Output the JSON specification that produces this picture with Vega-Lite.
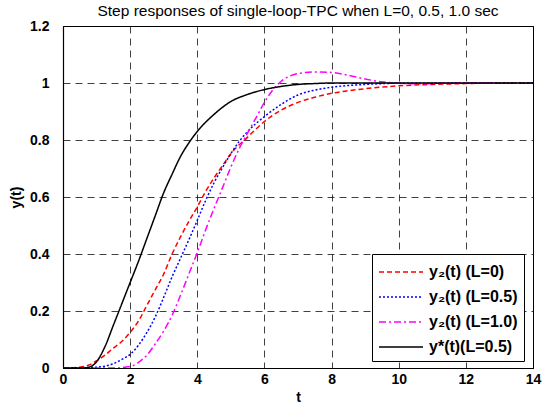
{
  "$schema": "https://vega.github.io/schema/vega-lite/v6.json",
  "width": 470,
  "height": 342,
  "autosize": {"type": "none"},
  "padding": {"left": 63, "top": 26, "right": 14, "bottom": 39},
  "background": "white",
  "title": {"text": "Step responses of single-loop-TPC when L=0, 0.5, 1.0 sec", "font": "Liberation Sans", "fontSize": 15.5, "fontWeight": "normal", "color": "black", "offset": 0},
  "config": {
    "view": {"stroke": "black", "strokeWidth": 1},
    "axis": {"labelFont": "Liberation Sans", "labelFontWeight": "bold", "labelFontSize": 14, "labelColor": "black", "titleFont": "Liberation Sans", "titleFontWeight": "bold", "titleFontSize": 14, "titleColor": "black", "domainColor": "black", "domainWidth": 1.2, "ticks": false, "tickSize": 0, "gridColor": "black", "gridOpacity": 0.75, "gridDash": [7, 5], "gridWidth": 1}
  },
  "data": {"values": [
    {"s":"y₂(t) (L=0)","t":0,"y":0},{"s":"y₂(t) (L=0)","t":0.5,"y":0.003},{"s":"y₂(t) (L=0)","t":0.8,"y":0.012},{"s":"y₂(t) (L=0)","t":1.0,"y":0.025},{"s":"y₂(t) (L=0)","t":1.25,"y":0.045},{"s":"y₂(t) (L=0)","t":1.5,"y":0.07},{"s":"y₂(t) (L=0)","t":1.75,"y":0.093},{"s":"y₂(t) (L=0)","t":2.0,"y":0.125},{"s":"y₂(t) (L=0)","t":2.25,"y":0.165},{"s":"y₂(t) (L=0)","t":2.5,"y":0.22},{"s":"y₂(t) (L=0)","t":2.75,"y":0.275},{"s":"y₂(t) (L=0)","t":3.0,"y":0.33},{"s":"y₂(t) (L=0)","t":3.25,"y":0.4},{"s":"y₂(t) (L=0)","t":3.5,"y":0.46},{"s":"y₂(t) (L=0)","t":3.75,"y":0.515},{"s":"y₂(t) (L=0)","t":4.0,"y":0.565},{"s":"y₂(t) (L=0)","t":4.25,"y":0.62},{"s":"y₂(t) (L=0)","t":4.5,"y":0.667},{"s":"y₂(t) (L=0)","t":4.75,"y":0.71},{"s":"y₂(t) (L=0)","t":5.0,"y":0.752},{"s":"y₂(t) (L=0)","t":5.5,"y":0.81},{"s":"y₂(t) (L=0)","t":6.0,"y":0.865},{"s":"y₂(t) (L=0)","t":6.5,"y":0.905},{"s":"y₂(t) (L=0)","t":7.0,"y":0.932},{"s":"y₂(t) (L=0)","t":7.5,"y":0.95},{"s":"y₂(t) (L=0)","t":8.0,"y":0.964},{"s":"y₂(t) (L=0)","t":8.5,"y":0.973},{"s":"y₂(t) (L=0)","t":9.0,"y":0.98},{"s":"y₂(t) (L=0)","t":10,"y":0.99},{"s":"y₂(t) (L=0)","t":11,"y":0.995},{"s":"y₂(t) (L=0)","t":12,"y":0.998},{"s":"y₂(t) (L=0)","t":13,"y":1.0},{"s":"y₂(t) (L=0)","t":14,"y":1.0},
    {"s":"y₂(t) (L=0.5)","t":0,"y":0},{"s":"y₂(t) (L=0.5)","t":1.0,"y":0.003},{"s":"y₂(t) (L=0.5)","t":1.5,"y":0.015},{"s":"y₂(t) (L=0.5)","t":1.75,"y":0.03},{"s":"y₂(t) (L=0.5)","t":2.0,"y":0.048},{"s":"y₂(t) (L=0.5)","t":2.25,"y":0.08},{"s":"y₂(t) (L=0.5)","t":2.5,"y":0.125},{"s":"y₂(t) (L=0.5)","t":2.75,"y":0.18},{"s":"y₂(t) (L=0.5)","t":3.0,"y":0.248},{"s":"y₂(t) (L=0.5)","t":3.25,"y":0.32},{"s":"y₂(t) (L=0.5)","t":3.5,"y":0.385},{"s":"y₂(t) (L=0.5)","t":3.75,"y":0.45},{"s":"y₂(t) (L=0.5)","t":4.0,"y":0.518},{"s":"y₂(t) (L=0.5)","t":4.25,"y":0.588},{"s":"y₂(t) (L=0.5)","t":4.5,"y":0.65},{"s":"y₂(t) (L=0.5)","t":4.75,"y":0.703},{"s":"y₂(t) (L=0.5)","t":5.0,"y":0.752},{"s":"y₂(t) (L=0.5)","t":5.25,"y":0.795},{"s":"y₂(t) (L=0.5)","t":5.5,"y":0.83},{"s":"y₂(t) (L=0.5)","t":6.0,"y":0.882},{"s":"y₂(t) (L=0.5)","t":6.5,"y":0.925},{"s":"y₂(t) (L=0.5)","t":7.0,"y":0.958},{"s":"y₂(t) (L=0.5)","t":7.5,"y":0.975},{"s":"y₂(t) (L=0.5)","t":8.0,"y":0.985},{"s":"y₂(t) (L=0.5)","t":9.0,"y":0.995},{"s":"y₂(t) (L=0.5)","t":10,"y":0.999},{"s":"y₂(t) (L=0.5)","t":14,"y":1.0},
    {"s":"y₂(t) (L=1.0)","t":0,"y":0},{"s":"y₂(t) (L=1.0)","t":1.5,"y":0},{"s":"y₂(t) (L=1.0)","t":2.0,"y":0.005},{"s":"y₂(t) (L=1.0)","t":2.25,"y":0.02},{"s":"y₂(t) (L=1.0)","t":2.5,"y":0.045},{"s":"y₂(t) (L=1.0)","t":2.75,"y":0.085},{"s":"y₂(t) (L=1.0)","t":3.0,"y":0.13},{"s":"y₂(t) (L=1.0)","t":3.25,"y":0.185},{"s":"y₂(t) (L=1.0)","t":3.5,"y":0.255},{"s":"y₂(t) (L=1.0)","t":3.75,"y":0.33},{"s":"y₂(t) (L=1.0)","t":4.0,"y":0.405},{"s":"y₂(t) (L=1.0)","t":4.25,"y":0.485},{"s":"y₂(t) (L=1.0)","t":4.5,"y":0.56},{"s":"y₂(t) (L=1.0)","t":4.75,"y":0.632},{"s":"y₂(t) (L=1.0)","t":5.0,"y":0.705},{"s":"y₂(t) (L=1.0)","t":5.25,"y":0.77},{"s":"y₂(t) (L=1.0)","t":5.5,"y":0.825},{"s":"y₂(t) (L=1.0)","t":5.75,"y":0.878},{"s":"y₂(t) (L=1.0)","t":6.0,"y":0.932},{"s":"y₂(t) (L=1.0)","t":6.25,"y":0.976},{"s":"y₂(t) (L=1.0)","t":6.5,"y":1.006},{"s":"y₂(t) (L=1.0)","t":6.75,"y":1.024},{"s":"y₂(t) (L=1.0)","t":7.0,"y":1.033},{"s":"y₂(t) (L=1.0)","t":7.5,"y":1.039},{"s":"y₂(t) (L=1.0)","t":8.0,"y":1.037},{"s":"y₂(t) (L=1.0)","t":8.5,"y":1.027},{"s":"y₂(t) (L=1.0)","t":9.0,"y":1.014},{"s":"y₂(t) (L=1.0)","t":9.5,"y":1.004},{"s":"y₂(t) (L=1.0)","t":10,"y":0.999},{"s":"y₂(t) (L=1.0)","t":10.5,"y":0.997},{"s":"y₂(t) (L=1.0)","t":11,"y":0.998},{"s":"y₂(t) (L=1.0)","t":12,"y":1.0},{"s":"y₂(t) (L=1.0)","t":13,"y":1.0},
    {"s":"y*(t)(L=0.5)","t":0,"y":0},{"s":"y*(t)(L=0.5)","t":0.6,"y":0},{"s":"y*(t)(L=0.5)","t":0.8,"y":0.004},{"s":"y*(t)(L=0.5)","t":1.0,"y":0.022},{"s":"y*(t)(L=0.5)","t":1.25,"y":0.075},{"s":"y*(t)(L=0.5)","t":1.5,"y":0.15},{"s":"y*(t)(L=0.5)","t":1.75,"y":0.225},{"s":"y*(t)(L=0.5)","t":2.0,"y":0.3},{"s":"y*(t)(L=0.5)","t":2.25,"y":0.375},{"s":"y*(t)(L=0.5)","t":2.5,"y":0.455},{"s":"y*(t)(L=0.5)","t":2.75,"y":0.535},{"s":"y*(t)(L=0.5)","t":3.0,"y":0.615},{"s":"y*(t)(L=0.5)","t":3.25,"y":0.68},{"s":"y*(t)(L=0.5)","t":3.5,"y":0.742},{"s":"y*(t)(L=0.5)","t":3.75,"y":0.79},{"s":"y*(t)(L=0.5)","t":4.0,"y":0.83},{"s":"y*(t)(L=0.5)","t":4.5,"y":0.89},{"s":"y*(t)(L=0.5)","t":5.0,"y":0.935},{"s":"y*(t)(L=0.5)","t":5.5,"y":0.96},{"s":"y*(t)(L=0.5)","t":6.0,"y":0.977},{"s":"y*(t)(L=0.5)","t":6.5,"y":0.988},{"s":"y*(t)(L=0.5)","t":7.0,"y":0.995},{"s":"y*(t)(L=0.5)","t":7.5,"y":0.998},{"s":"y*(t)(L=0.5)","t":8.0,"y":1.0},{"s":"y*(t)(L=0.5)","t":14,"y":1.0}
  ]},
  "mark": {"type": "line", "strokeWidth": 1.5, "interpolate": "monotone", "clip": true},
  "encoding": {
    "x": {"field": "t", "type": "quantitative", "title": "t", "scale": {"domain": [0, 14], "nice": false}, "axis": {"values": [0, 2, 4, 6, 8, 10, 12, 14], "labelPadding": 4, "titlePadding": 4, "labelFlush": false}},
    "y": {"field": "y", "type": "quantitative", "title": "y(t)", "scale": {"domain": [0, 1.2], "nice": false}, "axis": {"values": [0, 0.2, 0.4, 0.6, 0.8, 1, 1.2], "format": "~g", "labelPadding": 14, "titlePadding": 6, "labelFlush": false}},
    "color": {"field": "s", "type": "nominal", "title": null, "scale": {"domain": ["y₂(t) (L=0)", "y₂(t) (L=0.5)", "y₂(t) (L=1.0)", "y*(t)(L=0.5)"], "range": ["#ff0000", "#0000ff", "#ff00ff", "#000000"]},
      "legend": {"orient": "none", "legendX": 309, "legendY": 228, "strokeColor": "black", "fillColor": "white", "padding": 6, "symbolType": "M-1,0H3", "symbolSize": 484, "symbolStrokeWidth": 1.5, "labelOffset": 27, "labelFont": "Liberation Sans", "labelFontWeight": "bold", "labelFontSize": 16, "labelColor": "black", "rowPadding": 5, "labelLimit": 200, "cornerRadius": 0}},
    "strokeDash": {"field": "s", "type": "nominal", "title": null, "scale": {"domain": ["y₂(t) (L=0)", "y₂(t) (L=0.5)", "y₂(t) (L=1.0)", "y*(t)(L=0.5)"], "range": [[5, 3], [2, 2], [7, 3, 2, 3], [1, 0]]}}
  }
}
